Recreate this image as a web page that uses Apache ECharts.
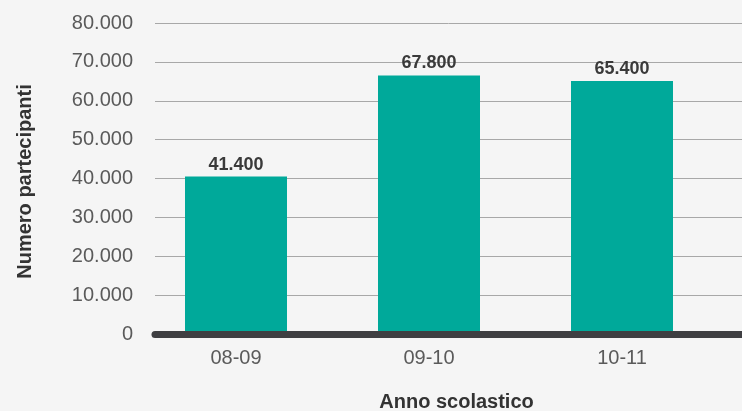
<!DOCTYPE html>
<html>
<head>
<meta charset="utf-8">
<script src="https://cdn.jsdelivr.net/npm/echarts@6/dist/echarts.min.js"></script>
<style>
html,body{margin:0;padding:0;background:#f5f5f5;}
#c{width:742px;height:411px;}
</style>
</head>
<body>
<div id="c"></div>
<script>
// Data
const categories = ['08-09', '09-10', '10-11'];
const barHeights = [40500, 66500, 65100];      // bar heights as drawn in the picture
const labelValues = [41400, 67800, 65400];     // value labels printed above bars
const yTicks = [0, 10000, 20000, 30000, 40000, 50000, 60000, 70000, 80000];
const yAxisTitle = 'Numero partecipanti';
const xAxisTitle = 'Anno scolastico';

function fmt(v) {
  return String(v).replace(/\B(?=(\d{3})+(?!\d))/g, '.');
}

const FONT = '"Liberation Sans", Arial, Helvetica, sans-serif';
const chart = echarts.init(document.getElementById('c'));
const yMin = yTicks[0], yMax = yTicks[yTicks.length - 1], yInt = yTicks[1] - yTicks[0];

chart.setOption({
  backgroundColor: '#f5f5f5',
  animation: false,
  grid: [
    { left: 155, right: 0, top: 23, bottom: 77, containLabel: false, outerBoundsMode: 'none' },
    { left: 139.5, width: 579, top: 23, bottom: 77, containLabel: false, outerBoundsMode: 'none' }
  ],
  xAxis: [
    {
      gridIndex: 0, type: 'value', min: 0, max: 1, z: 10,
      axisLabel: { show: false }, axisTick: { show: false }, splitLine: { show: false },
      axisLine: { show: true, lineStyle: { color: '#3f3f42', width: 7, cap: 'round' } },
      name: xAxisTitle, nameLocation: 'middle', nameGap: 58,
      nameTextStyle: { fontFamily: FONT, fontSize: 20, fontWeight: 'bold', color: '#333', padding: [0, 0, 0, 16] }
    },
    {
      gridIndex: 1, type: 'category', data: categories,
      axisLine: { show: false }, axisTick: { show: false }, splitLine: { show: false },
      axisLabel: { fontFamily: FONT, fontSize: 20, color: '#5a5a5a', margin: 14 }
    }
  ],
  yAxis: [
    {
      gridIndex: 0, type: 'value', min: yMin, max: yMax, interval: yInt,
      axisLine: { show: false }, axisTick: { show: false },
      splitLine: { show: true, lineStyle: { color: '#a8a8a8', width: 1 } },
      axisLabel: { fontFamily: FONT, fontSize: 20, color: '#5a5a5a', margin: 22, formatter: v => fmt(v) },
      name: yAxisTitle, nameLocation: 'middle', nameGap: 120, nameRotate: 90,
      nameTextStyle: { fontFamily: FONT, fontSize: 20, fontWeight: 'bold', color: '#333', padding: [0, 6, 0, 0] }
    },
    {
      gridIndex: 1, type: 'value', min: yMin, max: yMax, interval: yInt, show: false,
      splitLine: { show: false }
    }
  ],
  series: [{
    type: 'bar', xAxisIndex: 1, yAxisIndex: 1,
    data: barHeights, barWidth: 102,
    itemStyle: { color: '#00a99a' },
    label: {
      show: true, position: 'top', distance: 3,
      fontFamily: FONT, fontSize: 18, fontWeight: 'bold', color: '#3a3a3a',
      formatter: p => fmt(labelValues[p.dataIndex])
    }
  }]
});
</script>
</body>
</html>
